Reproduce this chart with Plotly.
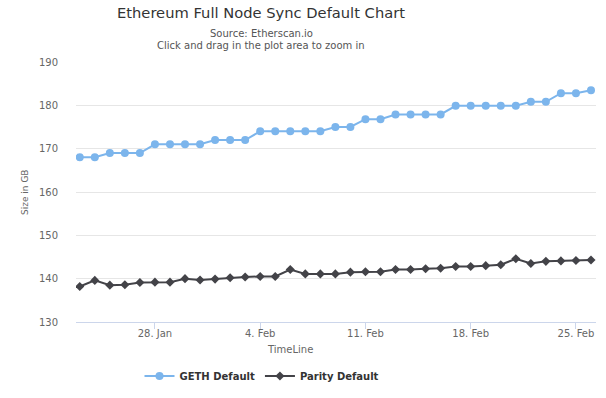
import plotly.graph_objects as go
import pandas as pd

# ---- data ----
dates = pd.date_range("2018-01-23", "2018-02-26", freq="D")
geth_values = [168, 168, 169, 169, 169, 171, 171, 171, 171, 172, 172, 172,
               174, 174, 174, 174, 174, 175, 175, 176.8, 176.8, 177.9, 177.9,
               177.9, 177.9, 179.9, 179.9, 179.9, 179.9, 179.9, 180.8, 180.8,
               182.8, 182.8, 183.5]
parity_values = [138.2, 139.6, 138.5, 138.6, 139.1, 139.2, 139.2, 140.0, 139.7,
                 139.9, 140.2, 140.4, 140.5, 140.5, 142.1, 141.1, 141.1, 141.1,
                 141.5, 141.6, 141.6, 142.1, 142.1, 142.3, 142.4, 142.8, 142.8,
                 143.0, 143.2, 144.6, 143.5, 144.0, 144.1, 144.2, 144.3]
x_tick_dates = ["2018-01-28", "2018-02-04", "2018-02-11", "2018-02-18", "2018-02-25"]
x_tick_labels = ["28. Jan", "4. Feb", "11. Feb", "18. Feb", "25. Feb"]
y_tick_values = [130, 140, 150, 160, 170, 180, 190]

FONT = "DejaVu Sans"

fig = go.Figure()
fig.add_trace(go.Scatter(
    x=dates, y=geth_values, name="GETH Default", mode="lines+markers",
    line=dict(color="#7cb5ec", width=2),
    marker=dict(symbol="circle", size=8, color="#7cb5ec"),
))
fig.add_trace(go.Scatter(
    x=dates, y=parity_values, name="Parity Default", mode="lines+markers",
    line=dict(color="#434348", width=2),
    marker=dict(symbol="diamond", size=7, color="#434348"),
))

W, H = 606, 398
L, R, T, B = 76, 10, 62, 76
pw, ph = W - L - R, H - T - B

def px_x(px):
    return (px - L) / pw

def px_y(py):
    return (H - B - py) / ph

fig.update_layout(
    width=W, height=H,
    margin=dict(l=L, r=R, t=T, b=B, autoexpand=False),
    paper_bgcolor="white", plot_bgcolor="white",
    font=dict(family=FONT, size=10, color="#666666"),
    title=dict(text="Ethereum Full Node Sync Default Chart",
               x=261 / W, xanchor="center", xref="container",
               y=1 - 13 / H, yanchor="middle", yref="container",
               font=dict(family=FONT, size=14.7, color="#333333")),
    showlegend=True,
    legend=dict(orientation="h", x=px_x(262), xanchor="center",
                y=px_y(376), yanchor="middle",
                font=dict(family=FONT, size=10, color="#333333", weight="bold"),
                bgcolor="rgba(0,0,0,0)"),
    xaxis=dict(
        type="date",
        range=["2018-01-22 18:00", "2018-02-26 08:00"],
        tickvals=x_tick_dates, ticktext=x_tick_labels,
        showgrid=False, zeroline=False,
        showline=True, linecolor="#ccd6eb", linewidth=1,
        ticks="outside", ticklen=6, tickcolor="#ccd6eb",
        ticklabelstandoff=-4,
        tickfont=dict(family=FONT, size=10, color="#666666"),
    ),
    yaxis=dict(
        range=[130, 190], tickvals=y_tick_values,
        showgrid=True, gridcolor="#e6e6e6", gridwidth=1,
        zeroline=False, showline=False,
        ticks="outside", ticklen=15, tickcolor="rgba(0,0,0,0)",
        tickfont=dict(family=FONT, size=10, color="#666666"),
    ),
    annotations=[
        dict(text="Source: Etherscan.io", x=px_x(261), xref="paper",
             y=px_y(34), yref="paper", showarrow=False,
             xanchor="center", yanchor="middle",
             font=dict(family=FONT, size=10, color="#555555")),
        dict(text="Click and drag in the plot area to zoom in", x=px_x(261),
             xref="paper", y=px_y(45), yref="paper", showarrow=False,
             xanchor="center", yanchor="middle",
             font=dict(family=FONT, size=10, color="#555555")),
        dict(text="TimeLine", x=px_x(290), xref="paper", y=px_y(349),
             yref="paper", showarrow=False, xanchor="center", yanchor="middle",
             font=dict(family=FONT, size=10, color="#666666")),
        dict(text="Size in GB", x=px_x(25), xref="paper", y=px_y(192),
             yref="paper", showarrow=False, textangle=-90,
             xanchor="center", yanchor="middle",
             font=dict(family=FONT, size=9, color="#666666")),
    ],
)

fig.write_html("out.html",
               config={"displayModeBar": False},
               post_script="document.body.style.margin='0';document.body.style.overflow='hidden';")
